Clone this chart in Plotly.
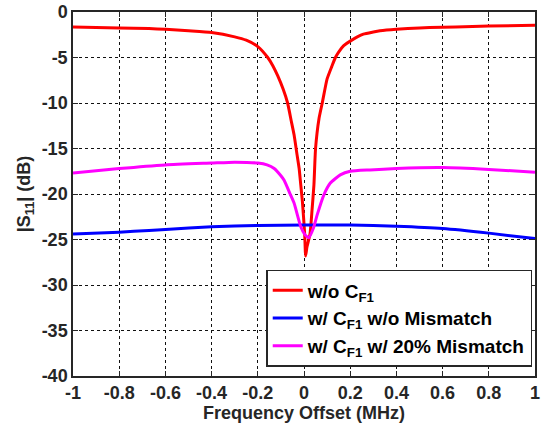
import plotly.graph_objects as go

# ---- data ----
red_x = [-1, -0.8, -0.671, -0.6, -0.5, -0.4, -0.3, -0.25, -0.2, -0.157, -0.135, -0.114, -0.09,
         -0.071, -0.055, -0.043, -0.03, -0.021, -0.014, -0.007, 0.003, 0.007, 0.013, 0.026,
         0.035, 0.043, 0.05, 0.065, 0.079, 0.1, 0.12, 0.136, 0.15, 0.172, 0.2, 0.257, 0.3,
         0.329, 0.4, 0.5, 0.543, 0.657, 0.8, 1]
red_y = [-1.65, -1.75, -1.82, -1.9, -2.07, -2.26, -2.73, -3.1, -3.8, -5.0, -5.9, -7.0, -8.5,
         -10.0, -12.0, -13.5, -15.7, -17.2, -19.0, -20.8, -24.4, -26.8, -25.8, -24.4,
         -21.7, -19.0, -15.0, -11.7, -10.0, -7.35, -6.0, -5.0, -4.4, -3.7, -3.2, -2.44, -2.2,
         -2.07, -1.9, -1.75, -1.71, -1.64, -1.53, -1.46]

blue_x = [-1, -0.8, -0.671, -0.6, -0.4, -0.2, 0, 0.2, 0.4, 0.6, 0.8, 1]
blue_y = [-24.4, -24.2, -24.0, -23.9, -23.6, -23.45, -23.4, -23.4, -23.55, -23.8, -24.3, -24.9]

mag_x = [-1, -0.8, -0.6, -0.4, -0.3, -0.2, -0.16, -0.129, -0.1, -0.086, -0.06, -0.043, -0.014,
         0.005, 0.021, 0.04, 0.057, 0.086, 0.114, 0.157, 0.2, 0.286, 0.4, 0.6, 0.8, 1]
mag_y = [-17.7, -17.2, -16.8, -16.6, -16.5, -16.6, -16.8, -17.2, -18.0, -18.5, -20.0, -21.0, -23.6,
         -24.5, -24.8, -23.8, -22.3, -20.1, -18.8, -17.9, -17.5, -17.35, -17.2, -17.1, -17.3, -17.6]

x_tickvals = [-1, -0.8, -0.6, -0.4, -0.2, 0, 0.2, 0.4, 0.6, 0.8, 1]
x_ticktext = ["-1", "-0.8", "-0.6", "-0.4", "-0.2", "0", "0.2", "0.4", "0.6", "0.8", "1"]
y_tickvals = [-40, -35, -30, -25, -20, -15, -10, -5, 0]
y_ticktext = ["-40", "-35", "-30", "-25", "-20", "-15", "-10", "-5", "0"]

names = ["w/o C<sub>F1</sub>", "w/ C<sub>F1</sub> w/o Mismatch", "w/ C<sub>F1</sub> w/ 20% Mismatch"]

FONT = "Liberation Sans, Arial, sans-serif"
AX = "#262626"

fig = go.Figure()
fig.add_trace(go.Scatter(x=red_x, y=red_y, mode="lines", name=names[0],
                         line=dict(color="#ff0000", width=3, shape="spline", smoothing=0.5)))
fig.add_trace(go.Scatter(x=blue_x, y=blue_y, mode="lines", name=names[1],
                         line=dict(color="#0000ff", width=3, shape="spline", smoothing=0.5)))
fig.add_trace(go.Scatter(x=mag_x, y=mag_y, mode="lines", name=names[2],
                         line=dict(color="#ff00ff", width=3, shape="spline", smoothing=0.5)))

axis_common = dict(
    showline=True, linecolor=AX, linewidth=1.5, mirror="ticks",
    ticks="inside", ticklen=5, tickwidth=1.2, tickcolor=AX,
    showgrid=True, gridcolor="#111111", griddash="dot", gridwidth=1.4,
    zeroline=False, ticklabeloverflow="allow",
    tickfont=dict(family=FONT, size=18, color="#262626", weight="bold"),
)

fig.update_xaxes(range=[-1, 1], tickmode="array", tickvals=x_tickvals, ticktext=x_ticktext,
                 title=dict(text="Frequency Offset (MHz)", standoff=4,
                            font=dict(family=FONT, size=18, color="#262626", weight="bold")),
                 **axis_common)
fig.update_yaxes(range=[-40, 0], tickmode="array", tickvals=y_tickvals, ticktext=y_ticktext,
                 title=dict(text="|S<sub>11</sub>| (dB)", standoff=6,
                            font=dict(family=FONT, size=18, color="#262626", weight="bold")),
                 **axis_common)

fig.update_layout(
    width=542, height=430,
    margin=dict(l=73, r=2, t=9, b=54),
    plot_bgcolor="white", paper_bgcolor="white",
    font=dict(family=FONT, size=18, color="#262626", weight="bold"),
    legend=dict(x=0.994, y=0.025, xanchor="right", yanchor="bottom",
                bgcolor="white", bordercolor=AX, borderwidth=1.5,
                font=dict(family=FONT, size=19, color="#000000", weight="bold"),
                itemwidth=30, tracegroupgap=0),
    showlegend=True,
)

fig.write_html("out.html")
